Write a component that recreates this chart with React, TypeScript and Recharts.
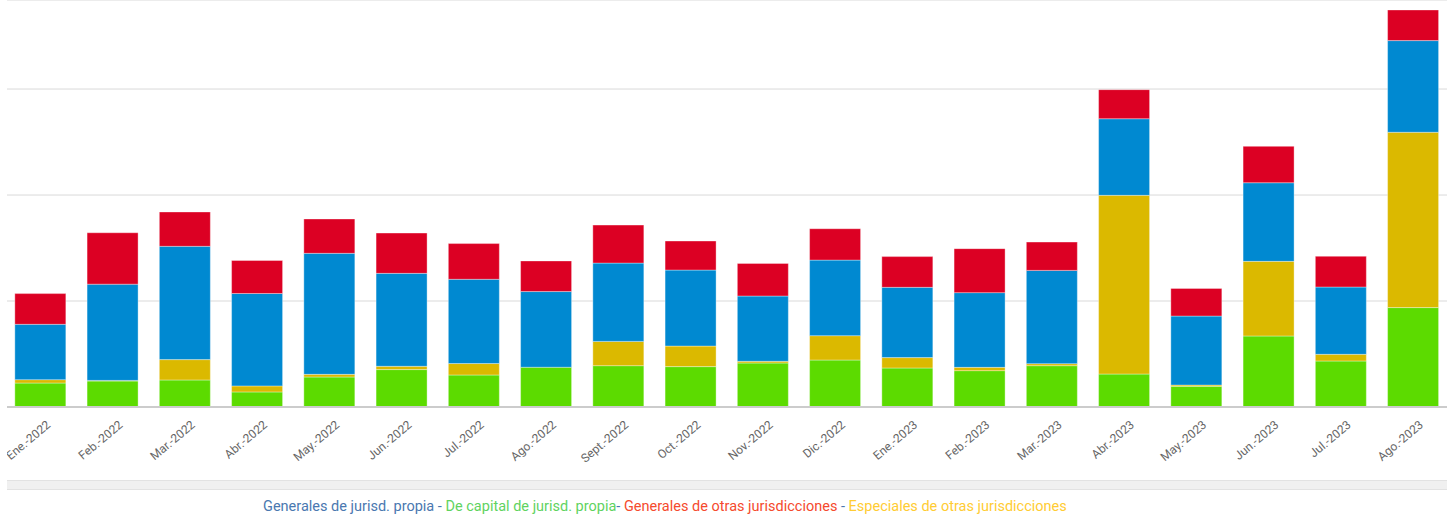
import { BarChart, Bar, XAxis, YAxis, CartesianGrid } from 'recharts';

const months = [
  'Ene.-2022', 'Feb.-2022', 'Mar.-2022', 'Abr.-2022', 'May.-2022', 'Jun.-2022', 'Jul.-2022',
  'Ago.-2022', 'Sept.-2022', 'Oct.-2022', 'Nov.-2022', 'Dic.-2022', 'Ene.-2023', 'Feb.-2023',
  'Mar.-2023', 'Abr.-2023', 'May.-2023', 'Jun.-2023', 'Jul.-2023', 'Ago.-2023',
];

// De capital de jurisd. propia
const capitalPropia = [22.6, 24.5, 25.5, 14.2, 28.3, 35.3, 30.2, 37.5, 39, 38.1, 41.5, 44.3, 36.8, 34.3, 39, 31.1, 19.5, 67, 43.4, 93.8];
// Especiales de otras jurisdicciones
const especialesOtras = [3.2, 0.6, 19.2, 5.7, 2.5, 3.1, 10.8, 0, 22.9, 19.4, 1.6, 23, 9.8, 3.1, 1.9, 168.6, 1.2, 70.4, 6.3, 165.4];
// Generales de jurisd. propia
const generalesPropia = [52.2, 90.8, 106.9, 87.2, 114.2, 87.7, 79.5, 71.4, 73.9, 71.7, 61.6, 71.3, 66.3, 70.5, 88, 72.3, 65.1, 74.2, 63.5, 86.5];
// Generales de otras jurisdicciones
const generalesOtras = [29, 48.5, 32.4, 31.1, 32.4, 38, 33.7, 28.9, 35.8, 27.4, 30.8, 29.6, 29, 41.5, 26.7, 27.4, 26.1, 34.3, 29, 28.9];

const gridTicks = [0, 100, 200, 300];

const data = months.map((m, i) => ({
  month: m,
  capitalPropia: capitalPropia[i],
  especialesOtras: especialesOtras[i],
  generalesPropia: generalesPropia[i],
  generalesOtras: generalesOtras[i],
}));

const MonthTick = ({ x, y, payload }: any) => (
  <g transform={`translate(${x + 6},${y + 5})`}>
    <text
      textAnchor="end"
      transform="rotate(-40)"
      dy={8}
      fontSize={12}
      fill="#666"
      fontFamily="Roboto, sans-serif"
    >
      {payload.value}
    </text>
  </g>
);

const edge = 'rgba(255,255,255,0.35)';

export default function App() {
  return (
    <div style={{ position: 'absolute', left: 0, top: 0, width: 1453, height: 519, background: '#fff', fontFamily: 'Roboto, sans-serif' }}>
      {/* chart area is clipped to the same band as the scrollbar below */}
      <div style={{ position: 'absolute', left: 7, top: 0, width: 1440, height: 480, overflow: 'hidden' }}>
        <div style={{ marginLeft: -7 }}>
          <BarChart
            width={1453}
            height={519}
            data={data}
            margin={{ top: 0, right: 4, left: 4, bottom: 42 }}
            barCategoryGap="15%"
          >
            <CartesianGrid vertical={false} stroke="#d9d9d9" />
            <YAxis hide domain={[0, 384]} ticks={gridTicks} allowDataOverflow />
            <XAxis
              dataKey="month"
              interval={0}
              height={70}
              tickLine={false}
              axisLine={{ stroke: '#cccccc', strokeWidth: 2 }}
              tick={<MonthTick />}
            />
            <Bar dataKey="capitalPropia" stackId="a" fill="#5cdb00" stroke={edge} isAnimationActive={false} />
            <Bar dataKey="especialesOtras" stackId="a" fill="#dbb900" stroke={edge} isAnimationActive={false} />
            <Bar dataKey="generalesPropia" stackId="a" fill="#0089d1" stroke={edge} isAnimationActive={false} />
            <Bar dataKey="generalesOtras" stackId="a" fill="#dc0023" stroke={edge} isAnimationActive={false} />
          </BarChart>
        </div>
      </div>
      <div
        style={{
          position: 'absolute', left: 7, top: 480, width: 1440, height: 8,
          background: '#f0f0f0', borderTop: '1px solid #e2e2e2', borderBottom: '1px solid #e2e2e2',
        }}
      />
      <div
        style={{
          position: 'absolute', left: 263, top: 498, fontSize: 14.5, whiteSpace: 'pre',
          fontFamily: 'Roboto, sans-serif', color: '#4a78b0',
        }}
      >
        <span>Generales de jurisd. propia - </span>
        <span style={{ color: '#5fd35f' }}>De capital de jurisd. propia</span>
        <span>- </span>
        <span style={{ color: '#f54a2d' }}>Generales de otras jurisdicciones</span>
        <span> - </span>
        <span style={{ color: '#ffcc33' }}>Especiales de otras jurisdicciones</span>
      </div>
    </div>
  );
}
